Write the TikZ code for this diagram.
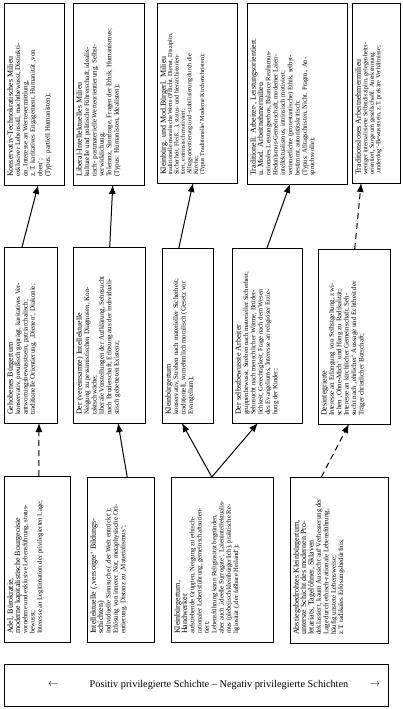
\documentclass[tikz,border=0pt]{standalone}
\usepackage{fontspec}
\setmainfont{Liberation Serif}
\usetikzlibrary{calc,arrows.meta}
\newcommand{\milieuhead}[1]{{\fontsize{8}{8.4}\selectfont #1}}

\begin{document}
\begin{tikzpicture}[x=1pt,y=-1pt,
  milieu/.style={draw,line width=0.8pt,inner sep=0pt,outer sep=0pt,anchor=north west},
  txt/.style={rotate=90,anchor=north west,align=left,inner xsep=8pt,inner ysep=3pt,font=\fontsize{7}{7.4}\selectfont},
  small/.style={font=\fontsize{6.7}{7.3}\selectfont},
  link/.style={line width=1pt,-{Latex[length=9pt,width=7pt]}},
  dlink/.style={link,dash pattern=on 6pt off 4pt}]
\useasboundingbox (0,0) rectangle (403,709);

% obere Reihe: Milieus
\node[milieu,minimum width=60pt,minimum height=182pt] (t1) at (4,3) {};
\node[milieu,minimum width=71pt,minimum height=182pt] (t2) at (73,3) {};
\node[milieu,minimum width=80pt,minimum height=180pt] (t3) at (157,3) {};
\node[milieu,minimum width=100pt,minimum height=181pt] (t4) at (247,3) {};
\node[milieu,minimum width=48pt,minimum height=180pt] (t5) at (352,3) {};

\node[txt] (t1txt) at (t1.south west) {\milieuhead{Konservativ-Technokratisches Milieu}\\
exklusiver Lebensstil, machtbewusst, Distinkti-\\
on, Interesse an Wertevermittlung,\\
z.\,T. karitatives Engagement, Humanität ‚von\\
oben‘;\\
(Typus: partiell Humanisten);};
\node[txt] (t2txt) at (t2.south west) {\milieuhead{Liberal-Intellektuelles Milieu}\\
kulturelle und politische Führerschaft, idealis-\\
tisch- postmaterielle Werteorientierung, Selbst-\\
verwirklichung;\\
Toleranz, Sinnfrage, Fragen der Ethik, Humanismus;\\
(Typus: Humanisten, Idealisten);};
\node[txt,font=\fontsize{6.2}{6.4}\selectfont] (t3txt) at (t3.south west) {\milieuhead{Kleinbürg. und Mod.Bürgerl. Milieu}\\
traditionelle moralische Werte (Pflicht, Dienst, Disziplin,\\
Sicherheit, Fleiß\dots), status- und hierarchieorien-\\
tiert, extrinsisch motiviert;\\
Alltagsorientierung und -stabilisierung durch die\\
Kirche;\\
(Typus Traditionelle/ Moderne Kirchenchristen);};
\node[txt,small] (t4txt) at (t4.south west) {\milieuhead{Traditionell. Arbeiter-, Leistungsorientiert.}\\
\milieuhead{u. Mod. Arbeitnehmermilieu}\\
rationales Leistungsethos, Balance Realismus-\\
Hedonismus-Gemeinschaft, moderner Laien-\\
intellektualismus, intrinsisch motiviert;\\
verinnerlichte (protestantische) Ethik, selbst-\\
bestimmt, autoritätskritisch;\\
(Typus: Alltagschristen, Nicht. Pragm., An-\\
spruchsvolle);};
\node[txt,font=\fontsize{6.3}{6.5}\selectfont] (t5txt) at (t5.south west) {\milieuhead{Traditionsloses Arbeitnehmermilieu}\\
weniger internalisierte Selbstdisziplin, gelegenheits-\\
orientiert, Sorge um gesellschaftl. Anerkennung,\\
‚underdog‘-Bewusstsein, z.T. prekäre Verhältnisse;};

% mittlere Reihe
\node[milieu,minimum width=53pt,minimum height=176pt] (m1) at (4,247) {};
\node[milieu,minimum width=72pt,minimum height=176pt] (m2) at (73,247) {};
\node[milieu,minimum width=51pt,minimum height=175pt] (m3) at (162,248) {};
\node[milieu,minimum width=70pt,minimum height=175pt] (m4) at (232,248) {};
\node[milieu,minimum width=72pt,minimum height=175pt] (m5) at (318,249) {};

\node[txt] (m1txt) at (m1.south west) {\milieuhead{Gehobenes Bürgertum}\\
konservativ, preußisch geprägt, karitatives Ver-\\
antwortungsbewusstsein, patriarchalisch;\\
traditionelle Orientierung, ‚Dienen‘, Diakonie;};
\node[txt] (m2txt) at (m2.south west) {\milieuhead{Der (vereinsamte) Intellektuelle}\\
Neigung zu pessimistischen Diagnosen, Kon-\\
taktschwäche;\\
liberale Vorstellungen der Aufklärung, Sehnsucht\\
nach Bruderschaft, Erlösung aus der individuali-\\
stisch gebetteten Existenz;};
\node[txt] (m3txt) at (m3.south west) {\milieuhead{Kleinbürgertum}\\
konservativ, Streben nach materieller Sicherheit;\\
traditionell, vornehmlich moralisch (Gesetz vor\\
Evangelium);};
\node[txt,small] (m4txt) at (m4.south west) {\milieuhead{Der selbstbewusste Arbeiter}\\
gruppenbewusst, Streben nach materieller Sicherheit;\\
Sehnsucht nach menschlicher Wärme, Brüder-\\
lichkeit, Gerechtigkeit, Frage nach dem Wesen\\
des Evangeliums, Interesse an religiöser Erzie-\\
hung der Kinder;};
\node[txt] (m5txt) at (m5.south west) {\milieuhead{Desintegrierte}\\
Interesse an Erlangung von Selbstgeltung, zwi-\\
schen ‚Ohne-Mich‘ und Hang zu Radikalität;\\
Interesse an kirchlicher Gemeinschaft, Seh-\\
sucht nach ‚ehrlicher‘ Aussage und Echtheit der\\
Träger christlicher Botschaft;};

% untere Reihe: Schichten
\node[milieu,minimum width=66pt,minimum height=166pt] (b1) at (4,476) {};
\node[milieu,minimum width=67pt,minimum height=165pt] (b2) at (87,477) {};
\node[milieu,minimum width=102pt,minimum height=165pt] (b3) at (171,477) {};
\node[milieu,minimum width=98pt,minimum height=166pt] (b4) at (290,477) {};

\node[txt,small] (b1txt) at (b1.south west) {\milieuhead{Adel, Bürokratie,}\\
\milieuhead{moderne kapitalistische Bourgeoisie}\\
vornehme und exklusive Lebensführung, status-\\
bewusst;\\
Interesse an Legitimation der privilegierten Lage;};
\node[txt] (b2txt) at (b2.south west) {\milieuhead{Intellektuelle (‚versorgte‘ Bildungs-}\\
\milieuhead{schichten)}\\
individuelle Sinnsuche (‚der Welt entrückt‘);\\
Erlösung von innerer Not, metaphysische Ori-\\
entierung, Distanz zu ‚Materialismus‘;};
\node[txt,small] (b3txt) at (b3.south west) {\milieuhead{Kleinbürgertum,}\\
\milieuhead{Handwerker}\\
aufstrebende Gruppen, Neigung zu ethisch-\\
rationaler Lebensführung, gemeinschaftsorien-\\
tiert;\\
Lebensführung kann Religiosität begründen,\\
aber auch ‚ideelle Surrogate‘, Laienintellektualis-\\
mus (plebejisch/kleinbürgerlich), praktische Re-\\
ligiosität (‚der faßbare Heiland‘);};
\node[txt] (b4txt) at (b4.south west) {\milieuhead{Abstiegsbedrohtes Kleinbürgertum,}\\
\milieuhead{unterste Schicht des modernen Pro-}\\
\milieuhead{letariats, Tagelöhner, Sklaven}\\
deklassiert, kaum Aussicht auf Verbesserung der\\
Lage durch ethisch-rationale Lebensführung,\\
häufig unstete Lebensweise;\\
z.T. radikales Erlösungsbedürfnis;};

% Achse
\node[milieu,minimum width=384pt,minimum height=42pt] (axis) at (4,664) {};
\node[font=\fontsize{10.3}{12}\selectfont] (axistxt) at (219,685) {Positiv privilegierte Schichte – Negativ privilegierte Schichten};
\node[font=\fontsize{10.3}{12}\selectfont] (larr) at (53,685) {$\leftarrow$};
\node[font=\fontsize{10.3}{12}\selectfont] (rarr) at (375,685) {$\rightarrow$};

% Verbindungen
\draw[dlink] ($(b1.north west)!0.53!(b1.north east)$) -- ($(m1.south west)!0.66!(m1.south east)$);
\draw[link] ($(m1.north west)!0.34!(m1.north east)$) -- ($(t1.south west)!0.57!(t1.south east)$);
\draw[link] ($(b2.north west)!0.6!(b2.north east)$) -- ($(m2.south west)!0.625!(m2.south east)$);
\draw[link] ($(m2.north west)!0.51!(m2.north east)$) -- ($(t2.south west)!0.56!(t2.south east)$);
\draw[link] ($(b3.north west)!0.4!(b3.north east)$) -- ($(m3.south west)!0.39!(m3.south east)$);
\draw[link] ($(b3.north west)!0.4!(b3.north east)$) -- ($(m4.south west)!0.37!(m4.south east)$);
\draw[link] ($(m3.north west)!0.33!(m3.north east)$) -- ($(t3.south west)!0.45!(t3.south east)$);
\draw[link] ($(m4.north west)!0.5!(m4.north east)$) -- ($(t4.south west)!0.43!(t4.south east)$);
\draw[dlink] ($(b4.north west)!0.32!(b4.north east)$) -- ($(m5.south west)!0.43!(m5.south east)$);
\draw[dlink] ($(m5.north west)!0.51!(m5.north east)$) -- ($(t5.south west)!0.19!(t5.south east)$);
\end{tikzpicture}
\end{document}
